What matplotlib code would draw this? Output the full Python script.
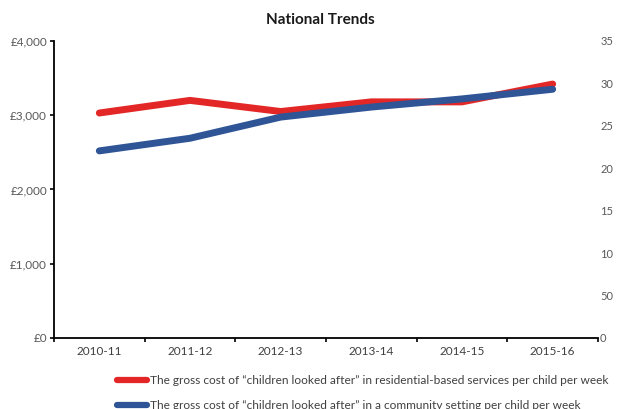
import matplotlib.pyplot as plt
from matplotlib.ticker import FuncFormatter

plt.rcParams['font.family'] = ['Lato', 'DejaVu Sans']

years = ['2010-11', '2011-12', '2012-13', '2013-14', '2014-15', '2015-16']
residential = [3030, 3200, 3050, 3180, 3180, 3420]
community = [2520, 2690, 2975, 3110, 3220, 3350]
right_ticks = [0, 5, 10, 15, 20, 25, 30, 35]
right_labels = ['0', '50', '10', '15', '20', '25', '30', '35']

label_res = 'The gross cost of \u201cchildren looked after\u201d in residential-based services per child per week'
label_com = 'The gross cost of \u201cchildren looked after\u201d in a community setting per child per week'

fig = plt.figure(figsize=(6.17, 4.09), dpi=100)
ax = fig.add_axes([0.0875, 0.1736, 0.8817, 0.7262])

x = range(len(years))
ax.plot(x, residential, color='#e32726', lw=5, solid_capstyle='round', label=label_res)
ax.plot(x, community, color='#2f5597', lw=5, solid_capstyle='round', label=label_com)

ax.set_xlim(-0.5, len(years) - 0.5)
ax.set_ylim(0, 4000)
ax.set_yticks([0, 1000, 2000, 3000, 4000])
ax.yaxis.set_major_formatter(FuncFormatter(lambda v, p: '\u00a3{:,.0f}'.format(v)))
ax.set_xticks(list(x))
ax.set_xticklabels(years)
ax.set_xticks([i - 0.5 for i in range(len(years) + 1)], minor=True)
ax.tick_params(axis='x', which='major', length=0, pad=6, labelsize=8.5, labelcolor='#404040')
ax.tick_params(axis='x', which='minor', length=3, width=1.2, direction='out')
ax.tick_params(axis='y', length=3, width=1.2, pad=2, labelsize=8.5, labelcolor='#595959')

for side in ['top', 'right']:
    ax.spines[side].set_visible(False)
for side in ['left', 'bottom']:
    ax.spines[side].set_linewidth(1.3)

# secondary scale on the right, labels only
ax2 = ax.twinx()
ax2.set_ylim(0, 35)
ax2.set_yticks(right_ticks)
ax2.set_yticklabels(right_labels)
ax2.tick_params(axis='y', length=0, pad=1.5, labelsize=8, labelcolor='#595959')
for side in ['top', 'right', 'left', 'bottom']:
    ax2.spines[side].set_visible(False)

fig.text(0.52, 0.951, 'National Trends', ha='center', va='center',
         fontsize=11, fontweight='bold', color='#1a1a1a')

leg = fig.legend(loc='upper left', bbox_to_anchor=(0.19, 0.083), frameon=False,
                 fontsize=8.6, handlelength=2.5, handletextpad=0.25, labelspacing=1.15,
                 borderaxespad=0, borderpad=0, labelcolor='#404040')
for line in leg.get_lines():
    line.set_linewidth(4.5)

fig.savefig('out.png', dpi=100)
